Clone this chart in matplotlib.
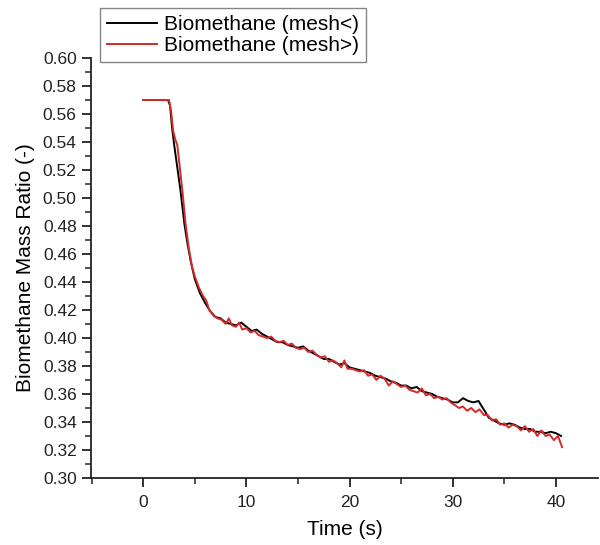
import numpy as np
import matplotlib.pyplot as plt

plt.rcParams['font.family'] = ['Liberation Sans', 'DejaVu Sans']

# black curve: Biomethane (mesh<)
t_fine = [0, 2.4, 2.6, 2.8, 3.0, 3.3, 3.6, 4.0, 4.3, 4.6, 5.0, 5.5, 6.0, 6.5, 7.0, 7.5,
          8.0, 8.5, 9.0, 9.5, 10, 10.5, 11, 11.5, 12, 12.5, 13, 13.5, 14, 14.5, 15, 15.5,
          16, 16.5, 17, 17.5, 18, 18.5, 19, 19.5, 20, 20.5, 21, 21.5, 22, 22.5, 23, 23.5,
          24, 24.5, 25, 25.5, 26, 26.5, 27, 27.5, 28, 28.5, 29, 29.5, 30, 30.5, 31, 31.5,
          32, 32.5, 33, 33.5, 34, 34.5, 35, 35.5, 36, 36.5, 37, 37.5, 38, 38.5, 39, 39.5,
          40, 40.5]
y_fine = [0.570, 0.570, 0.566, 0.550, 0.538, 0.522, 0.506, 0.481, 0.467, 0.455, 0.442,
          0.432, 0.425, 0.419, 0.415, 0.414, 0.411, 0.410, 0.409, 0.411, 0.408, 0.405,
          0.406, 0.403, 0.401, 0.399, 0.397, 0.397, 0.395, 0.394, 0.393, 0.394, 0.391,
          0.389, 0.387, 0.385, 0.385, 0.383, 0.381, 0.382, 0.379, 0.378, 0.377, 0.376,
          0.375, 0.373, 0.372, 0.371, 0.369, 0.368, 0.366, 0.366, 0.364, 0.365, 0.362,
          0.361, 0.360, 0.358, 0.357, 0.356, 0.354, 0.354, 0.357, 0.355, 0.354, 0.355,
          0.349, 0.343, 0.341, 0.339, 0.338, 0.339, 0.338, 0.336, 0.335, 0.335, 0.333,
          0.333, 0.332, 0.333, 0.332, 0.330]

# red curve: Biomethane (mesh>)
t_coarse = [0, 2.5, 2.7, 2.9, 3.1, 3.3, 3.5, 3.8, 4.1, 4.4, 4.7, 5.0, 5.4, 5.8, 6.1, 6.4,
            6.8, 7.2, 7.6, 8.0, 8.3, 8.6, 9.0, 9.3, 9.6, 10.0, 10.4, 10.8, 11.2, 11.6,
            12.0, 12.4, 12.8, 13.2, 13.6, 14.0, 14.4, 14.8, 15.2, 15.6, 16.0, 16.4, 16.8,
            17.2, 17.6, 18.0, 18.4, 18.8, 19.2, 19.5, 19.8, 20.2, 20.6, 21.0, 21.4, 21.8,
            22.2, 22.6, 23.0, 23.4, 23.8, 24.2, 24.6, 25.0, 25.4, 25.8, 26.2, 26.6, 27.0,
            27.4, 27.8, 28.2, 28.6, 29.0, 29.4, 29.8, 30.2, 30.6, 31.0, 31.4, 31.8, 32.2,
            32.6, 33.0, 33.4, 33.8, 34.2, 34.6, 35.0, 35.4, 35.8, 36.2, 36.6, 37.0, 37.4,
            37.8, 38.2, 38.6, 39.0, 39.4, 39.8, 40.2, 40.6]
y_coarse = [0.570, 0.570, 0.562, 0.548, 0.542, 0.538, 0.525, 0.505, 0.482, 0.465, 0.452,
            0.444, 0.436, 0.430, 0.427, 0.420, 0.416, 0.414, 0.413, 0.410, 0.414, 0.409,
            0.408, 0.411, 0.406, 0.407, 0.404, 0.405, 0.402, 0.401, 0.400, 0.401, 0.398,
            0.397, 0.398, 0.395, 0.396, 0.393, 0.392, 0.393, 0.390, 0.391, 0.388, 0.386,
            0.387, 0.383, 0.384, 0.382, 0.379, 0.384, 0.378, 0.378, 0.377, 0.376, 0.377,
            0.373, 0.374, 0.370, 0.373, 0.371, 0.366, 0.369, 0.367, 0.365, 0.366, 0.363,
            0.362, 0.361, 0.364, 0.359, 0.360, 0.357, 0.358, 0.356, 0.357, 0.354, 0.352,
            0.350, 0.351, 0.348, 0.350, 0.347, 0.349, 0.345, 0.345, 0.341, 0.342, 0.338,
            0.339, 0.336, 0.338, 0.337, 0.334, 0.337, 0.333, 0.335, 0.330, 0.334, 0.330,
            0.331, 0.327, 0.330, 0.322]

fig = plt.figure(figsize=(6, 5.45), dpi=100)
ax = fig.add_axes([0.151, 0.123, 0.846, 0.7706])

l1, = ax.plot(t_fine, y_fine, color='black', lw=1.4, label='Biomethane (mesh<)')
l2, = ax.plot(t_coarse, y_coarse, color='#d42a2a', lw=1.4, label='Biomethane (mesh>)')

ax.set_xlim(-5.1, 44.1)
ax.set_ylim(0.30, 0.60)
ax.set_xticks([0, 10, 20, 30, 40])
ax.set_xticks([-5, 5, 15, 25, 35], minor=True)
ax.set_yticks(np.arange(0.30, 0.601, 0.02))
ax.set_yticks(np.arange(0.31, 0.60, 0.02), minor=True)
ax.yaxis.set_major_formatter(plt.FormatStrFormatter('%.2f'))

for s in ['top', 'right']:
    ax.spines[s].set_visible(False)
for s in ['left', 'bottom']:
    ax.spines[s].set_linewidth(1.3)
    ax.spines[s].set_color('#222222')
ax.tick_params(which='major', direction='out', length=6.5, width=1.3, labelsize=12.5, colors='#222222')
ax.tick_params(which='minor', direction='out', length=4, width=1.1, colors='#222222')
ax.tick_params(axis='x', pad=6)

ax.set_xlabel('Time (s)', fontsize=15, labelpad=7)
ax.set_ylabel('Biomethane Mass Ratio (-)', fontsize=15, labelpad=6)

leg = fig.legend(handles=[l1, l2], loc='lower left', bbox_to_anchor=(0.167, 0.886),
                 fontsize=15, frameon=True, fancybox=False, handlelength=2.4,
                 handletextpad=0.35, borderpad=0.33, labelspacing=0.1, borderaxespad=0)
leg.get_frame().set_edgecolor('#666666')
leg.get_frame().set_linewidth(1.0)

fig.savefig('out.png', dpi=100)
